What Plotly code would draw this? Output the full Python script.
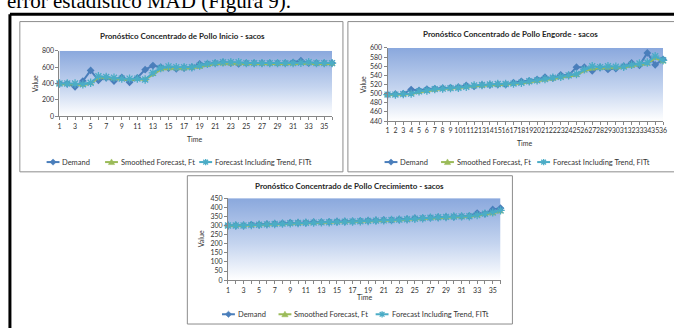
import base64
import plotly.graph_objects as go

W, H = 674, 328

TIME = list(range(1, 37))
X_LABELS_ODD = [str(t) if t % 2 == 1 else "" for t in TIME]
X_LABELS_ALL = [str(t) for t in TIME]

SERIES_NAMES = ["Demand", "Smoothed Forecast, Ft", "Forecast Including Trend, FITt"]

INICIO_DEMAND = [400, 400, 360, 430, 560, 440, 470, 430, 475, 415, 470, 570, 620, 600, 590, 580, 590, 600,
                 640, 640, 650, 660, 650, 640, 650, 650, 650, 650, 650, 650, 660, 680, 650, 650, 650, 650]
INICIO_FT = [390, 390, 390, 380, 400, 470, 470, 460, 450, 450, 450, 450, 510, 570, 580, 580, 580, 590,
             600, 620, 640, 640, 640, 640, 640, 640, 640, 640, 640, 640, 640, 645, 645, 640, 640, 640]
INICIO_FIT = [400, 400, 400, 390, 410, 490, 480, 470, 460, 460, 460, 450, 530, 590, 610, 600, 600, 600,
              620, 640, 650, 660, 660, 660, 650, 650, 650, 650, 650, 650, 650, 655, 660, 650, 650, 650]

ENGORDE_DEMAND = [498, 499, 500, 509, 507, 510, 511, 512, 513, 514, 518, 516, 519, 519, 520, 520, 524, 527,
                  528, 531, 536, 534, 541, 540, 558, 558, 550, 557, 553, 555, 560, 567, 562, 589, 563, 575]
ENGORDE_FT = [497, 497, 498, 499, 503, 505, 508, 510, 511, 512, 514, 516, 517, 518, 519, 520, 520, 522,
              525, 527, 530, 532, 535, 538, 540, 550, 554, 555, 556, 556, 557, 560, 563, 565, 578, 570]
ENGORDE_FIT = [498, 498, 499, 500, 505, 507, 510, 511, 512, 513, 515, 518, 519, 520, 521, 521, 522, 524,
               527, 529, 532, 535, 537, 540, 543, 553, 560, 558, 560, 559, 559, 563, 566, 568, 582, 573]

CREC_DEMAND = [300, 300, 300, 305, 305, 308, 310, 312, 315, 315, 316, 318, 318, 320, 322, 322, 323, 325,
               327, 328, 330, 330, 333, 335, 340, 340, 343, 345, 347, 348, 350, 352, 368, 365, 388, 395]
CREC_FT = [298, 298, 299, 300, 302, 304, 306, 308, 310, 312, 313, 314, 315, 316, 318, 319, 320, 321,
           323, 324, 326, 327, 329, 331, 334, 337, 339, 341, 343, 345, 347, 349, 353, 360, 365, 375]
CREC_FIT = [300, 300, 300, 302, 304, 306, 308, 310, 312, 314, 315, 316, 317, 318, 320, 321, 322, 323,
            325, 327, 328, 330, 332, 334, 337, 340, 343, 345, 347, 349, 350, 351, 357, 365, 372, 383]

TITLES = ["Pronóstico Concentrado de Pollo Inicio - sacos",
          "Pronóstico Concentrado de Pollo Engorde - sacos",
          "Pronóstico Concentrado de Pollo Crecimiento - sacos"]

COLORS = ["#4a7ebb", "#9bbb59", "#4bacc6"]
SYMBOLS = ["diamond", "triangle-up", "asterisk-open"]

FONT = "Lato"
TXT = "#333333"
AXC = "#868686"


def fx(x):
    return x / W


def fy(y):
    return 1 - y / H


def P(x, y):
    return "%.5f,%.5f" % (fx(x), fy(y))


GRAD_SVG = ('<svg xmlns="http://www.w3.org/2000/svg" width="10" height="100" viewBox="0 0 10 100" '
            'preserveAspectRatio="none"><defs><linearGradient id="g" x1="0" y1="0" x2="0" y2="1">'
            '<stop offset="0" stop-color="rgb(138,168,221)"/><stop offset="0.55" stop-color="rgb(196,212,239)"/>'
            '<stop offset="1" stop-color="rgb(255,255,255)"/></linearGradient></defs>'
            '<rect x="0" y="0" width="10" height="100" fill="url(#g)"/></svg>')
GRAD_URI = "data:image/svg+xml;base64," + base64.b64encode(GRAD_SVG.encode()).decode()

charts = [
    dict(title=TITLES[0], plot=(58, 333, 47, 114), yrange=[0, 800], dtick=200, xlabels=X_LABELS_ODD,
         title_xy=(182, 32), value_xy=(33, 80.5), time_xy=(195, 137), leg_y=161, leg_x=(59, 118, 213),
         leg_font=7.5, data=(INICIO_DEMAND, INICIO_FT, INICIO_FIT)),
    dict(title=TITLES[1], plot=(389, 667, 44, 119), yrange=[440, 600], dtick=20, xlabels=X_LABELS_ALL,
         title_xy=(513, 30), value_xy=(364, 81.5), time_xy=(528, 141), leg_y=161, leg_x=(400, 457, 554),
         leg_font=7.5, data=(ENGORDE_DEMAND, ENGORDE_FT, ENGORDE_FIT)),
    dict(title=TITLES[2], plot=(228, 503, 198, 282), yrange=[0, 450], dtick=50, xlabels=X_LABELS_ODD,
         title_xy=(351, 186), value_xy=(201, 240), time_xy=(366, 299), leg_y=317, leg_x=(236, 293, 391),
         leg_font=7.5, data=(CREC_DEMAND, CREC_FT, CREC_FIT)),
]

fig = go.Figure()
layout = dict(width=W, height=H, margin=dict(l=0, r=0, t=0, b=0), paper_bgcolor="white",
              plot_bgcolor="rgba(0,0,0,0)", font=dict(family=FONT, size=7, color=TXT), showlegend=False)
shapes = []
annotations = []
images = []

# chart frames
FRAMES = [(18, 17, 344, 171), (349, 17, 700, 171), (187, 175, 515, 327)]
for (x0, y0, x1, y1) in FRAMES:
    shapes.append(dict(type="rect", xref="paper", yref="paper", x0=fx(x0), x1=fx(x1), y0=fy(y1), y1=fy(y0),
                       line=dict(color="#8c8c8c", width=1), layer="below"))


def legend_key(si, x_end, y, length=13):
    x0 = x_end - length
    cx = (x0 + x_end) / 2.0
    col = COLORS[si]
    out = [dict(type="line", xref="paper", yref="paper", x0=fx(x0), x1=fx(x_end), y0=fy(y), y1=fy(y),
                line=dict(color=col, width=2))]
    r = 3.2
    if si == 0:
        path = "M%s L%s L%s L%s Z" % (P(cx, y - r), P(cx + r, y), P(cx, y + r), P(cx - r, y))
        out.append(dict(type="path", xref="paper", yref="paper", path=path, fillcolor=col,
                        line=dict(color=col, width=0.5)))
    elif si == 1:
        path = "M%s L%s L%s Z" % (P(cx, y - r), P(cx + r, y + r * 0.8), P(cx - r, y + r * 0.8))
        out.append(dict(type="path", xref="paper", yref="paper", path=path, fillcolor=col,
                        line=dict(color=col, width=0.5)))
    else:
        d = r * 0.75
        path = "M%s L%s M%s L%s M%s L%s" % (P(cx - d, y - d), P(cx + d, y + d), P(cx - d, y + d),
                                            P(cx + d, y - d), P(cx, y - r), P(cx, y + r))
        out.append(dict(type="path", xref="paper", yref="paper", path=path, line=dict(color=col, width=1.3)))
    return out


for ci, c in enumerate(charts):
    sfx = "" if ci == 0 else str(ci + 1)
    xl, xr, yt, yb = c["plot"]
    layout["xaxis" + sfx] = dict(domain=[fx(xl), fx(xr)], range=[1, 36], anchor="y" + sfx,
                                 tickmode="array", tickvals=TIME, ticktext=c["xlabels"], tickangle=0,
                                 ticks="outside", ticklen=3, tickcolor=AXC, showline=True, linecolor=AXC,
                                 linewidth=1, showgrid=False, zeroline=False, fixedrange=True,
                                 tickfont=dict(size=7, color=TXT, family=FONT))
    layout["yaxis" + sfx] = dict(domain=[fy(yb), fy(yt)], range=c["yrange"], anchor="x" + sfx,
                                 tickmode="linear", tick0=c["yrange"][0], dtick=c["dtick"],
                                 ticks="outside", ticklen=3, tickcolor=AXC, showline=True, linecolor=AXC,
                                 linewidth=1, showgrid=False, zeroline=False, fixedrange=True,
                                 tickfont=dict(size=7, color=TXT, family=FONT))
    images.append(dict(source=GRAD_URI, xref="x" + sfx + " domain", yref="y" + sfx + " domain",
                       x=0, y=1, sizex=1, sizey=1, xanchor="left", yanchor="top", sizing="stretch",
                       layer="below", opacity=1))
    for si in range(3):
        mk = dict(symbol=SYMBOLS[si], size=6, color=COLORS[si])
        if si == 2:
            mk["line"] = dict(color=COLORS[si], width=1.3)
            mk["size"] = 7
        fig.add_trace(go.Scatter(x=TIME, y=c["data"][si], name=SERIES_NAMES[si], mode="lines+markers",
                                 line=dict(color=COLORS[si], width=2), marker=mk, cliponaxis=False,
                                 xaxis="x" + sfx, yaxis="y" + sfx))
        tx = c["leg_x"][si]
        shapes.extend(legend_key(si, tx - 1, c["leg_y"]))
        annotations.append(dict(text=SERIES_NAMES[si], x=fx(tx), y=fy(c["leg_y"]), xref="paper", yref="paper",
                                showarrow=False, xanchor="left", yanchor="middle",
                                font=dict(size=c["leg_font"], color=TXT, family=FONT)))
    annotations.append(dict(text="<b>" + c["title"] + "</b>", x=fx(c["title_xy"][0]), y=fy(c["title_xy"][1]),
                            xref="paper", yref="paper", showarrow=False, xanchor="center", yanchor="middle",
                            font=dict(size=8, color="#262626", family=FONT)))
    annotations.append(dict(text="Value", x=fx(c["value_xy"][0]), y=fy(c["value_xy"][1]), textangle=-90,
                            xref="paper", yref="paper", showarrow=False, xanchor="center", yanchor="middle",
                            font=dict(size=7, color=TXT, family=FONT)))
    annotations.append(dict(text="Time", x=fx(c["time_xy"][0]), y=fy(c["time_xy"][1]),
                            xref="paper", yref="paper", showarrow=False, xanchor="center", yanchor="middle",
                            font=dict(size=7, color=TXT, family=FONT)))

# outer black border
shapes.append(dict(type="line", xref="paper", yref="paper", x0=fx(8), x1=fx(700), y0=fy(9.5), y1=fy(9.5),
                   line=dict(color="black", width=3)))
shapes.append(dict(type="line", xref="paper", yref="paper", x0=fx(8), x1=fx(8), y0=fy(9.5), y1=fy(340),
                   line=dict(color="black", width=3)))

annotations.append(dict(text="error estadístico MAD (Figura 9).", x=fx(3), y=fy(10.5), xref="paper", yref="paper",
                        showarrow=False, xanchor="left", yanchor="bottom",
                        font=dict(size=21, color="black", family="Liberation Serif")))

layout["shapes"] = shapes
layout["annotations"] = annotations
layout["images"] = images
fig.update_layout(**layout)
fig.write_html("out.html")
